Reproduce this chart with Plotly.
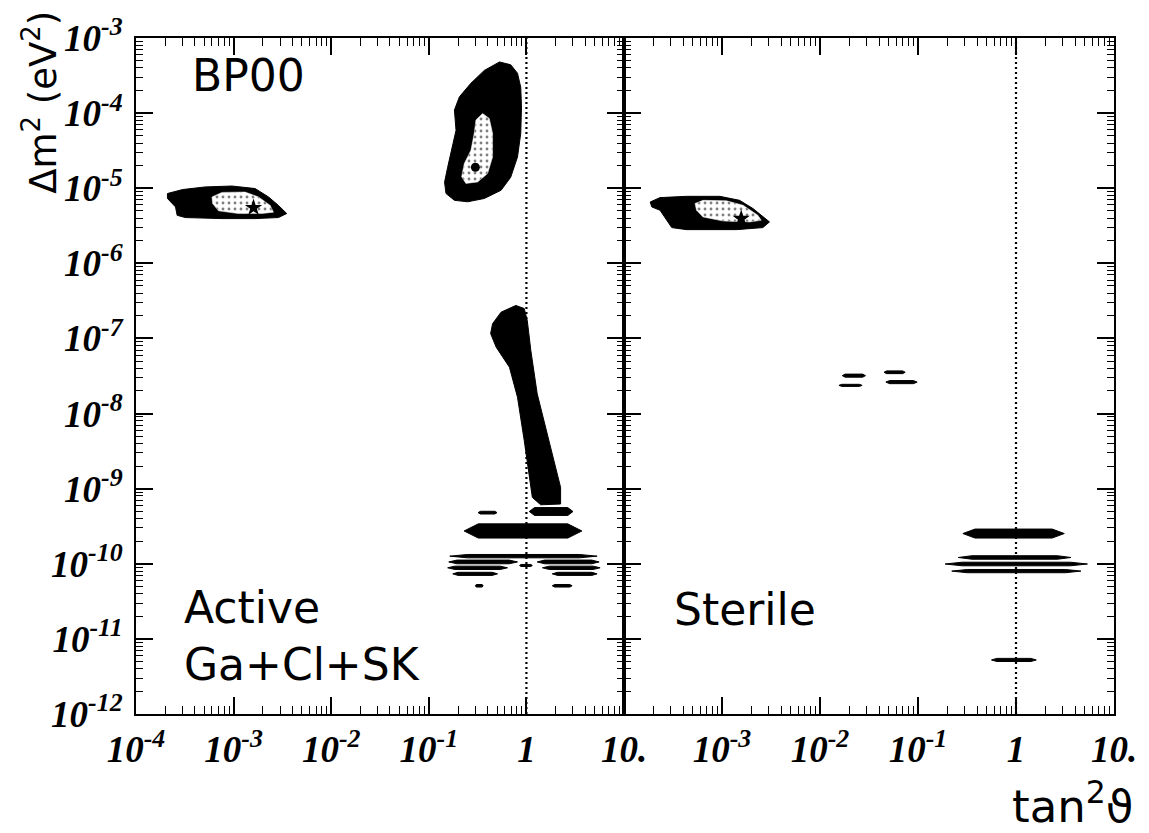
import numpy as np
import plotly.graph_objects as go

# ---------------- data: allowed regions (tan^2 theta, Delta m^2 [eV^2]) ----------------
# Active oscillations, outer (99% CL) LMA region
lma_tan2 = [0.53, 0.69, 0.81, 0.875, 0.89, 0.875, 0.81, 0.69, 0.55, 0.37, 0.25, 0.183,
            0.15, 0.145, 0.156, 0.176, 0.19, 0.183, 0.206, 0.27, 0.37]
lma_dm2 = [4.8e-4, 4.4e-4, 3.4e-4, 2.2e-4, 1.2e-4, 5.4e-5, 2.6e-5, 1.4e-5, 9.4e-6, 7.3e-6,
           6.6e-6, 6.9e-6, 8.5e-6, 1.2e-5, 1.9e-5, 3.6e-5, 5.9e-5, 1.1e-4, 1.65e-4, 2.5e-4, 3.7e-4]
# LMA inner (90% CL) region
lma_in_tan2 = [0.356, 0.416, 0.45, 0.45, 0.40, 0.316, 0.24, 0.217, 0.231, 0.27, 0.292, 0.304]
lma_in_dm2 = [9.9e-5, 8.5e-5, 5.4e-5, 2.6e-5, 1.57e-5, 1.21e-5, 1.16e-5, 1.42e-5, 2.13e-5,
              3.2e-5, 5.4e-5, 8.1e-5]
lma_best = (0.30, 1.9e-5)

# Active SMA
sma_tan2 = [2.1e-4, 3.0e-4, 5.1e-4, 9.6e-4, 1.66e-3, 2.28e-3, 2.88e-3, 3.5e-3, 2.88e-3,
            1.66e-3, 7.6e-4, 3.2e-4, 2.64e-4, 2.54e-4, 2.1e-4]
sma_dm2 = [8.5e-6, 9.6e-6, 1.04e-5, 1.07e-5, 9.9e-6, 7.65e-6, 5.9e-6, 4.6e-6, 4.07e-6,
           3.94e-6, 3.94e-6, 4.07e-6, 4.36e-6, 5.64e-6, 7.3e-6]
sma_in_tan2 = [6.0e-4, 7.6e-4, 1.31e-3, 1.8e-3, 2.37e-3, 2.56e-3, 1.95e-3, 1.12e-3, 7.0e-4, 6.1e-4]
sma_in_dm2 = [7.65e-6, 8.8e-6, 8.9e-6, 7.65e-6, 5.9e-6, 4.8e-6, 4.6e-6, 4.6e-6, 5.0e-6, 6.25e-6]
sma_best = (1.6e-3, 5.5e-6)

# Active LOW region
low_tan2 = [0.78, 0.95, 1.02, 1.11, 1.29, 1.57, 1.92, 2.24, 2.24, 1.40, 1.15, 1.07, 0.95,
            0.81, 0.67, 0.49, 0.43, 0.45, 0.55]
low_dm2 = [2.75e-7, 2.5e-7, 1.74e-7, 6.9e-8, 1.83e-8, 6.6e-9, 2.36e-9, 1.04e-9, 6.25e-10,
           6.1e-10, 7.65e-10, 1.57e-9, 4.37e-9, 1.65e-8, 4.14e-8, 7.65e-8, 1.16e-7, 1.57e-7, 2.24e-7]

# Active vacuum (just-so) streaks: tan^2 range and Delta m^2 band
act_x0 = [1.07, 0.32, 0.23, 0.164, 0.16, 1.29, 0.156, 1.46, 0.176, 1.84, 0.30, 1.84, 0.85]
act_x1 = [3.0, 0.50, 3.7, 5.3, 0.81, 5.56, 0.64, 5.69, 0.506, 5.3, 0.36, 2.94, 1.15]
act_lo = [4.4e-10, 4.6e-10, 2.2e-10, 1.2e-10, 1.0e-10, 1.0e-10, 8.4e-11, 8.4e-11, 7.0e-11,
          7.0e-11, 4.9e-11, 4.9e-11, 9.2e-11]
act_hi = [5.6e-10, 5.0e-10, 3.4e-10, 1.33e-10, 1.12e-10, 1.12e-10, 9.3e-11, 9.3e-11, 7.7e-11,
          7.7e-11, 5.3e-11, 5.3e-11, 9.8e-11]

# Sterile SMA
ssma_tan2 = [1.85e-4, 2.33e-4, 4.35e-4, 9.5e-4, 1.51e-3, 2.07e-3, 3.05e-3, 2.61e-3, 1.4e-3,
             4.35e-4, 3.07e-4, 2.73e-4, 2.33e-4, 1.92e-4]
ssma_dm2 = [6.56e-6, 7.5e-6, 7.8e-6, 7.8e-6, 6.9e-6, 5.36e-6, 3.56e-6, 2.99e-6, 2.81e-6,
            2.81e-6, 2.99e-6, 3.74e-6, 5.09e-6, 5.64e-6]
ssma_in_tan2 = [5.3e-4, 6.4e-4, 1.11e-3, 1.64e-3, 2.32e-3, 2.51e-3, 1.91e-3, 1.03e-3, 6.4e-4, 5.5e-4]
ssma_in_dm2 = [6.25e-6, 6.9e-6, 6.8e-6, 5.93e-6, 4.36e-6, 3.74e-6, 3.56e-6, 3.66e-6, 4.14e-6, 5.09e-6]
ssma_best = (1.57e-3, 3.94e-6)

# Sterile streaks
ster_x0 = [0.0169, 0.0156, 0.045, 0.047, 0.287, 0.258, 0.189, 0.221, 0.562]
ster_x1 = [0.0291, 0.0269, 0.074, 0.098, 3.11, 3.64, 5.36, 4.59, 1.61]
ster_lo = [3.05e-8, 2.3e-8, 3.4e-8, 2.5e-8, 2.2e-10, 1.15e-10, 9.4e-11, 7.6e-11, 5.0e-12]
ster_hi = [3.35e-8, 2.45e-8, 3.7e-8, 2.75e-8, 2.9e-10, 1.28e-10, 1.05e-10, 8.4e-11, 5.5e-12]

# axis labels
y_decades = list(range(-12, -2))
x_decades = list(range(-4, 2))


def sup_label(e):
    if e == 0:
        body = "1"
    elif e == 1:
        body = "10."
    else:
        body = "10<sup>%d</sup>" % e
    return "<b><i>%s</i></b>" % body


def streaks(x0s, x1s, los, his):
    """Tapered horizontal bands joined into one path separated by gaps."""
    xs, ys = [], []
    for a, b, lo, hi in zip(x0s, x1s, los, his):
        la, lb = np.log10(a), np.log10(b)
        t = 0.12 * (lb - la)
        mid = np.sqrt(lo * hi)
        px = [la, la + t, lb - t, lb, lb - t, la + t, la]
        xs += list(10 ** np.array(px)) + [None]
        ys += [mid, hi, hi, mid, lo, lo, mid, None]
    return xs, ys


fig = go.Figure()

BLACK = "black"


def region(x, y, xa, ya):
    fig.add_trace(go.Scatter(x=x + [x[0]], y=y + [y[0]], mode="lines", fill="toself",
                             fillcolor=BLACK, line=dict(color=BLACK, width=1),
                             xaxis=xa, yaxis=ya, hoverinfo="skip", showlegend=False))


def inner(x, y, xa, ya):
    fig.add_trace(go.Scatter(x=x + [x[0]], y=y + [y[0]], mode="lines", fill="toself",
                             fillcolor="white",
                             fillpattern=dict(shape=".", size=6, solidity=0.18,
                                              fgcolor=BLACK, bgcolor="white"),
                             line=dict(color="white", width=0.5),
                             xaxis=xa, yaxis=ya, hoverinfo="skip", showlegend=False))


def best(pt, symbol, size, xa, ya):
    fig.add_trace(go.Scatter(x=[pt[0]], y=[pt[1]], mode="markers",
                             marker=dict(symbol=symbol, size=size, color=BLACK),
                             xaxis=xa, yaxis=ya, hoverinfo="skip", showlegend=False))


def dotted_unity(xa, ya):
    fig.add_trace(go.Scatter(x=[1, 1], y=[1e-12, 1e-3], mode="lines",
                             line=dict(color=BLACK, width=2.2, dash="2px,3px"),
                             xaxis=xa, yaxis=ya, hoverinfo="skip", showlegend=False))


# left panel: active
dotted_unity("x", "y")
region(lma_tan2, lma_dm2, "x", "y")
inner(lma_in_tan2, lma_in_dm2, "x", "y")
best(lma_best, "circle", 9, "x", "y")
region(sma_tan2, sma_dm2, "x", "y")
inner(sma_in_tan2, sma_in_dm2, "x", "y")
best(sma_best, "star", 13, "x", "y")
region(low_tan2, low_dm2, "x", "y")
sx, sy = streaks(act_x0, act_x1, act_lo, act_hi)
fig.add_trace(go.Scatter(x=sx, y=sy, mode="lines", fill="toself", fillcolor=BLACK,
                         line=dict(color=BLACK, width=1), xaxis="x", yaxis="y",
                         hoverinfo="skip", showlegend=False))

# right panel: sterile
dotted_unity("x2", "y2")
region(ssma_tan2, ssma_dm2, "x2", "y2")
inner(ssma_in_tan2, ssma_in_dm2, "x2", "y2")
best(ssma_best, "star", 13, "x2", "y2")
sx, sy = streaks(ster_x0, ster_x1, ster_lo, ster_hi)
fig.add_trace(go.Scatter(x=sx, y=sy, mode="lines", fill="toself", fillcolor=BLACK,
                         line=dict(color=BLACK, width=1), xaxis="x2", yaxis="y2",
                         hoverinfo="skip", showlegend=False))

# ---------------- axes ----------------
minor_x = [k * 10.0 ** e for e in range(-4, 1) for k in range(2, 10)]
minor_y = [k * 10.0 ** e for e in range(-12, -3) for k in range(2, 10)]
tickfont = dict(family="Liberation Serif", size=37, color=BLACK)

common = dict(type="log", showgrid=False, zeroline=False, showline=True, linecolor=BLACK,
              linewidth=2, mirror="allticks", ticks="inside", ticklen=17, tickwidth=1.6,
              tickcolor=BLACK, tickfont=tickfont)

x_left_vals = [10.0 ** e for e in x_decades]
x_right_vals = [10.0 ** e for e in x_decades[1:]]

fig.update_layout(
    width=1149, height=833,
    margin=dict(l=136, r=29, t=38, b=119),
    paper_bgcolor="white", plot_bgcolor="white",
    xaxis=dict(domain=[0, 0.499], range=[-4, 1], anchor="y",
               tickvals=x_left_vals, ticktext=[sup_label(e) for e in x_decades],
               minor=dict(tickvals=minor_x, ticks="inside", ticklen=8, tickwidth=1.3,
                          tickcolor=BLACK, showgrid=False),
               ticklabelstandoff=2, **common),
    xaxis2=dict(domain=[0.499, 1], range=[-4, 1], anchor="y2",
                tickvals=x_right_vals, ticktext=[sup_label(e) for e in x_decades[1:]],
                minor=dict(tickvals=minor_x, ticks="inside", ticklen=8, tickwidth=1.3,
                           tickcolor=BLACK, showgrid=False),
                ticklabelstandoff=2, **common),
    yaxis=dict(domain=[0, 1], range=[-12, -3], anchor="x",
               tickvals=[10.0 ** e for e in y_decades],
               ticktext=[sup_label(e) for e in y_decades],
               minor=dict(tickvals=minor_y, ticks="inside", ticklen=7, tickwidth=1.3,
                          tickcolor=BLACK, showgrid=False),
               ticklabelstandoff=4, **common),
    yaxis2=dict(domain=[0, 1], range=[-12, -3], anchor="x2", matches="y",
                tickvals=[10.0 ** e for e in y_decades], showticklabels=False,
                minor=dict(tickvals=minor_y, ticks="inside", ticklen=7, tickwidth=1.3,
                           tickcolor=BLACK, showgrid=False),
                **common),
)

label_font = dict(family="DejaVu Sans", size=44, color=BLACK)
fig.add_annotation(text="BP00", xref="x domain", yref="y domain", x=0.11, y=0.945,
                   xanchor="left", yanchor="middle", showarrow=False, font=label_font)
fig.add_annotation(text="Active", xref="x domain", yref="y domain", x=0.094, y=0.157,
                   xanchor="left", yanchor="middle", showarrow=False, font=label_font)
fig.add_annotation(text="Ga+Cl+SK", xref="x domain", yref="y domain", x=0.094, y=0.0725,
                   xanchor="left", yanchor="middle", showarrow=False, font=label_font)
fig.add_annotation(text="Sterile", xref="x2 domain", yref="y2 domain", x=0.097, y=0.154,
                   xanchor="left", yanchor="middle", showarrow=False, font=label_font)

fig.add_annotation(text="Δm<sup>2</sup> (eV<sup>2</sup>)", xref="paper", yref="paper",
                   x=-0.0976, y=0.905, textangle=-90, xanchor="center", yanchor="middle",
                   showarrow=False, font=dict(family="DejaVu Sans", size=37, color=BLACK))
fig.add_annotation(text="tan<sup>2</sup>ϑ", xref="paper", yref="paper",
                   x=1.022, y=-0.133, xanchor="right", yanchor="middle",
                   showarrow=False, font=dict(family="DejaVu Sans", size=45, color=BLACK))

fig.write_html("out.html")
